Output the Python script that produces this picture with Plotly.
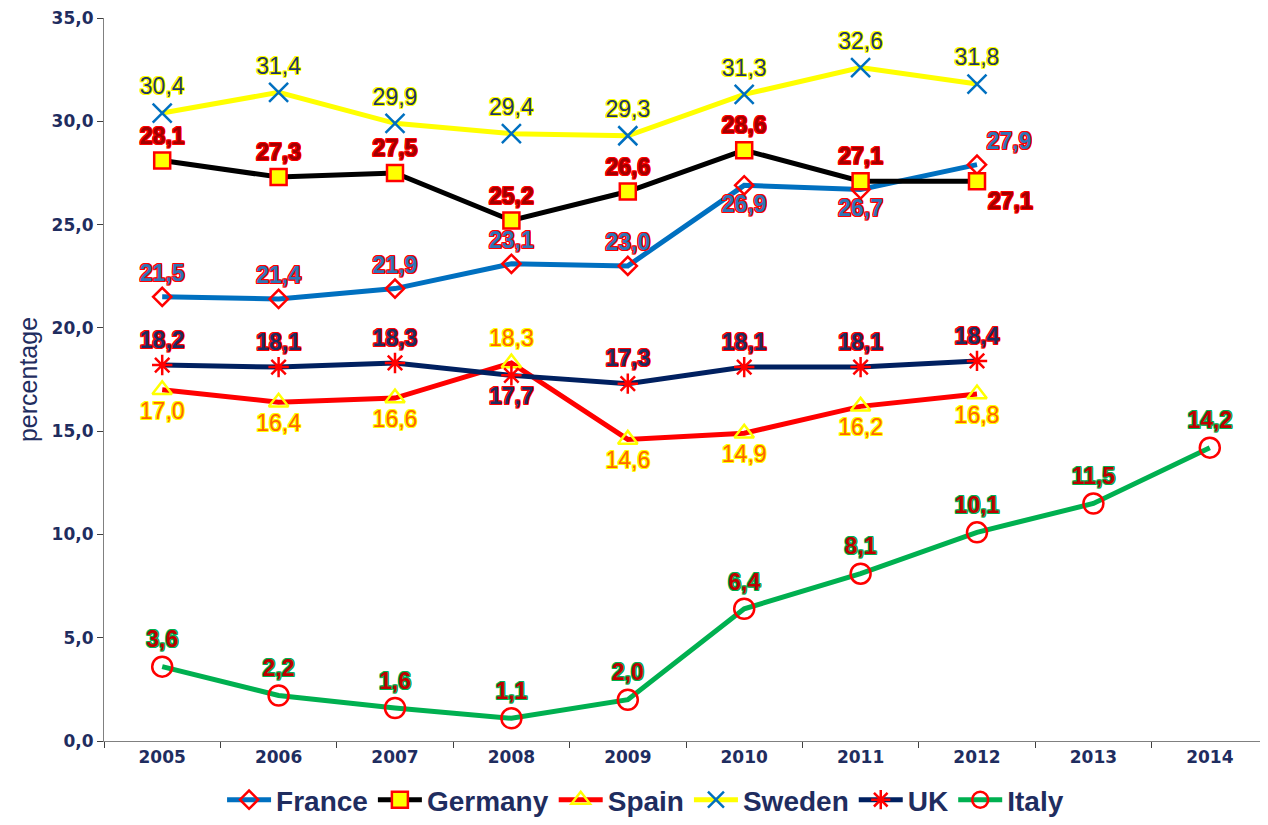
import plotly.graph_objects as go

years = ["2005", "2006", "2007", "2008", "2009", "2010", "2011", "2012", "2013", "2014"]
france = [21.5, 21.4, 21.9, 23.1, 23.0, 26.9, 26.7, 27.9]
germany = [28.1, 27.3, 27.5, 25.2, 26.6, 28.6, 27.1, 27.1]
spain = [17.0, 16.4, 16.6, 18.3, 14.6, 14.9, 16.2, 16.8]
sweden = [30.4, 31.4, 29.9, 29.4, 29.3, 31.3, 32.6, 31.8]
uk = [18.2, 18.1, 18.3, 17.7, 17.3, 18.1, 18.1, 18.4]
italy = [3.6, 2.2, 1.6, 1.1, 2.0, 6.4, 8.1, 10.1, 11.5, 14.2]

pos_france = ["top center"] * 5 + ["bottom center", "bottom center", "top right"]
pos_germany = ["top center"] * 7 + ["bottom right"]
pos_spain = ["bottom center"] * 3 + ["top center"] + ["bottom center"] * 4
pos_sweden = ["top center"] * 8
pos_uk = ["top center"] * 3 + ["bottom center"] + ["top center"] * 4
pos_italy = ["top center"] * 10


def outline(c, w=1):
    return ", ".join(f"{dx}px {dy}px 0 {c}" for dx in (-w, 0, w) for dy in (-w, 0, w) if dx or dy)


series = [
    ("France", france, pos_france, "#0070C0", dict(symbol="diamond-open", size=14, color="#FF0000", line=dict(width=2.5, color="#FF0000")),
     dict(color="#2E75B6", weight="bold", shadow=outline("#FF0000"))),
    ("Germany", germany, pos_germany, "#000000", dict(symbol="square", size=16, color="#FFFF00", line=dict(width=2.5, color="#FF0000")),
     dict(color="#A00000", weight="bold", shadow=outline("#FF0000"))),
    ("Spain", spain, pos_spain, "#FF0000", dict(symbol="triangle-up-open", size=17, color="#FFFF00", line=dict(width=2.5, color="#FFFF00")),
     dict(color="#FF6600", weight="normal", shadow=outline("#FFFF00"))),
    ("Sweden", sweden, pos_sweden, "#FFFF00", dict(symbol="x-thin", size=19, color="#0070C0", line=dict(width=2.5, color="#0070C0")),
     dict(color="#1F3864", weight="normal", shadow=outline("#FFFF00"))),
    ("UK", uk, pos_uk, "#002060", dict(symbol="asterisk", size=17, color="#FF0000", line=dict(width=2.5, color="#FF0000")),
     dict(color="#1F2D5F", weight="bold", shadow=outline("#FF0000"))),
    ("Italy", italy, pos_italy, "#00B050", dict(symbol="circle-open", size=20, color="#FF0000", line=dict(width=2.5, color="#FF0000")),
     dict(color="#C00000", weight="bold", shadow=outline("#00B050"))),
]

fig = go.Figure()
for name, vals, pos, lc, mk, tf in series:
    fig.add_trace(go.Scatter(
        x=years[:len(vals)], y=vals, name=name, mode="lines+markers+text",
        line=dict(color=lc, width=5),
        marker=mk,
        texttemplate="%{y:.1f}", textposition=pos,
        textfont=dict(family="Liberation Sans, Arial, sans-serif", size=23, **tf),
        cliponaxis=False,
    ))

tick_font = dict(family="DejaVu Sans, Verdana, sans-serif", size=17, color="#1F2D5F", weight="bold")

fig.update_layout(
    width=1260, height=817,
    paper_bgcolor="white", plot_bgcolor="white",
    margin=dict(l=96, r=0, t=10, b=84),
    separators=",.",
    showlegend=True,
    legend=dict(orientation="h", x=0.506, xanchor="center", xref="container", y=-0.01, yanchor="bottom", yref="container",
                font=dict(family="Liberation Sans, Arial, sans-serif", size=28, color="#1F2D5F", weight="bold"),
                itemwidth=44, tracegroupgap=0),
    xaxis=dict(type="category", categoryorder="array", categoryarray=years, range=[-0.5, 9.5],
               showline=True, linecolor="#808080", linewidth=1.2, ticks="outside", tickson="boundaries",
               ticklen=6, tickcolor="#404040", showgrid=False, zeroline=False, tickfont=tick_font),
    yaxis=dict(range=[0, 35], dtick=5, tickformat=".1f", showline=True, linecolor="#808080", linewidth=1.2,
               ticks="outside", ticklen=6, tickcolor="#404040", showgrid=False, zeroline=False, tickfont=tick_font,
               ticklabeloverflow="allow",
               title=dict(text="percentage", standoff=6,
                          font=dict(family="Liberation Sans, Arial, sans-serif", size=25, color="#1F2D5F"))),
)

fig.write_html("out.html")
